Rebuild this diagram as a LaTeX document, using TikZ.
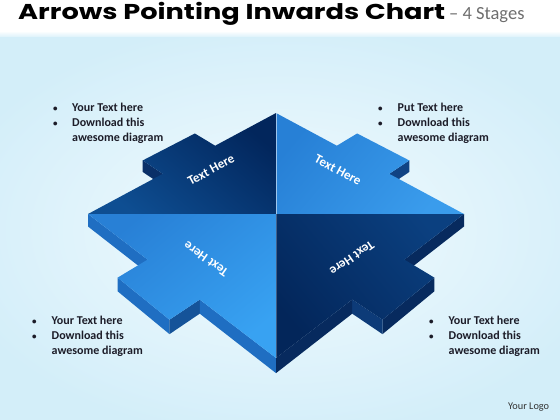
\documentclass[tikz,border=0pt]{standalone}
\usepackage{fontspec}
\setmainfont{Carlito}
\newfontfamily\titlefont{Poppins}
\definecolor{bgout}{HTML}{D3EEF9}
\definecolor{bgin}{HTML}{F3FBFE}
\definecolor{tlDark}{HTML}{02265C}
\definecolor{tlLight}{HTML}{0E4E92}
\definecolor{trDark}{HTML}{2780D6}
\definecolor{trLight}{HTML}{3A9CEC}
\definecolor{blDark}{HTML}{2880D6}
\definecolor{blLight}{HTML}{38A2F2}
\definecolor{brDark}{HTML}{03265A}
\definecolor{brLight}{HTML}{0B4080}
\definecolor{wallBL}{HTML}{1F6EC2}
\definecolor{wallBLs}{HTML}{155399}
\definecolor{wallBR}{HTML}{072A5E}
\definecolor{wallBRs}{HTML}{0D3B78}
\definecolor{wallTL}{HTML}{0A3068}
\definecolor{wallTR}{HTML}{104384}
\definecolor{bultext}{HTML}{1C1C28}
\definecolor{titlegray}{HTML}{6E6E6E}
\definecolor{logotext}{HTML}{333333}
\newcommand\mkp[3]{%
  \coordinate (#1) at ({276+188*(#2)/(1+0.1755*(#3))},{214-118.7*(#3)/(1+0.1755*(#3))});%
  \coordinate (#1b) at ({276+188*(#2)/(1+0.1755*(#3))},{214-118.7*(#3)/(1+0.1755*(#3))+12.5/(1+0.1755*(#3))});}
\newcommand\sbul{{\fontsize{9}{9}\selectfont •}}
\tikzset{
  bulblock/.style={anchor=base west, inner sep=0pt, text=bultext,
    font=\bfseries\fontsize{12}{15}\selectfont},
  facelabel/.style={text=white, inner sep=0pt,
    font=\bfseries\fontsize{13}{14}\selectfont},
}
\begin{document}
\begin{tikzpicture}[x=1pt,y=-1pt]
\useasboundingbox (0,0) rectangle (560,420);
% background
\fill[bgout] (0,0) rectangle (560,420);
\shade[inner color=bgin, outer color=bgout] (-60,20) rectangle (620,440);
\fill[white] (0,0) rectangle (560,31);
\shade[top color=white, bottom color=bgout!80!white] (0,31) rectangle (560,37);
% title
\node[anchor=base west, inner sep=0pt] (title) at (18,20)
  {\scalebox{1.265}[1]{\titlefont\bfseries\fontsize{21.5}{24}\selectfont Arrows Pointing Inwards Chart}};
\node[anchor=base west, inner sep=0pt, text=titlegray, font=\fontsize{18.5}{22}\selectfont] (stages) at (449,20) {– 4 Stages};
% geometry
\mkp{O}{0}{0}
\mkp{T}{0}{1}
\mkp{L}{-1}{0}
\mkp{R}{1}{0}
\mkp{B}{0}{-1}
\mkp{e1}{-0.36}{0.64}
\mkp{e2}{-0.49}{0.77}
\mkp{e3}{-0.77}{0.49}
\mkp{e4}{-0.64}{0.36}
\mkp{r1}{0.36}{0.64}
\mkp{r2}{0.49}{0.77}
\mkp{r3}{0.77}{0.49}
\mkp{r4}{0.64}{0.36}
\mkp{f1}{-0.64}{-0.36}
\mkp{f2}{-0.77}{-0.49}
\mkp{f3}{-0.49}{-0.77}
\mkp{f4}{-0.36}{-0.64}
\mkp{g1}{0.64}{-0.36}
\mkp{g2}{0.77}{-0.49}
\mkp{g3}{0.49}{-0.77}
\mkp{g4}{0.36}{-0.64}
% walls
\fill[wallTL] (e3) -- (e4) -- (e4b) -- (e3b) -- cycle;
\fill[wallTR] (r3) -- (r4) -- (r4b) -- (r3b) -- cycle;
\fill[wallBL] (L) -- (f1) -- (f1b) -- (Lb) -- cycle;
\fill[wallBL] (f2) -- (f3) -- (f3b) -- (f2b) -- cycle;
\fill[wallBLs] (f3) -- (f4) -- (f4b) -- (f3b) -- cycle;
\fill[wallBL] (f4) -- (B) -- (Bb) -- (f4b) -- cycle;
\fill[wallBR] (R) -- (g1) -- (g1b) -- (Rb) -- cycle;
\fill[wallBR] (g2) -- (g3) -- (g3b) -- (g2b) -- cycle;
\fill[wallBRs] (g3) -- (g4) -- (g4b) -- (g3b) -- cycle;
\fill[wallBR] (g4) -- (B) -- (Bb) -- (g4b) -- cycle;
% faces
\shade[top color=tlDark, bottom color=tlLight, shading angle=-40]
  (O) -- (T) -- (e1) -- (e2) -- (e3) -- (e4) -- (L) -- cycle;
\shade[top color=trDark, bottom color=trLight, shading angle=50]
  (O) -- (T) -- (r1) -- (r2) -- (r3) -- (r4) -- (R) -- cycle;
\shade[top color=blDark, bottom color=blLight, shading angle=40]
  (O) -- (L) -- (f1) -- (f2) -- (f3) -- (f4) -- (B) -- cycle;
\shade[top color=brLight, bottom color=brDark, shading angle=-50]
  (O) -- (R) -- (g1) -- (g2) -- (g3) -- (g4) -- (B) -- cycle;
\draw[white, opacity=0.55, line width=0.6pt] (T) -- (O);
\draw[white, opacity=0.25, line width=0.5pt] (O) -- (B);
% face labels
\node[facelabel, rotate=28] (lTL) at (211,170) {Text Here};
\node[facelabel, rotate=-28] (lTR) at (338,170) {Text Here};
\node[facelabel, rotate=145] (lBL) at (206,259) {Text Here};
\node[facelabel, rotate=-145] (lBR) at (352,258) {Text Here};
% bullet blocks
\node[bulblock] (tTL) at (53,111) {\begin{tabular}[t]{@{}p{19pt}@{}l@{}}\sbul&Your Text here\\ \sbul&Download this\\ &awesome diagram\end{tabular}};
\node[bulblock] (tTR) at (378,111) {\begin{tabular}[t]{@{}p{19.5pt}@{}l@{}}\sbul&Put Text here\\ \sbul&Download this\\ &awesome diagram\end{tabular}};
\node[bulblock] (tBL) at (32,324.5) {\begin{tabular}[t]{@{}p{19.5pt}@{}l@{}}\sbul&Your Text here\\ \sbul&Download this\\ &awesome diagram\end{tabular}};
\node[bulblock] (tBR) at (429,324.5) {\begin{tabular}[t]{@{}p{19.5pt}@{}l@{}}\sbul&Your Text here\\ \sbul&Download this\\ &awesome diagram\end{tabular}};
\node[anchor=base west, inner sep=0pt, text=logotext, font=\fontsize{10.3}{12}\selectfont] (logo) at (508,409) {Your Logo};
\end{tikzpicture}
\end{document}
